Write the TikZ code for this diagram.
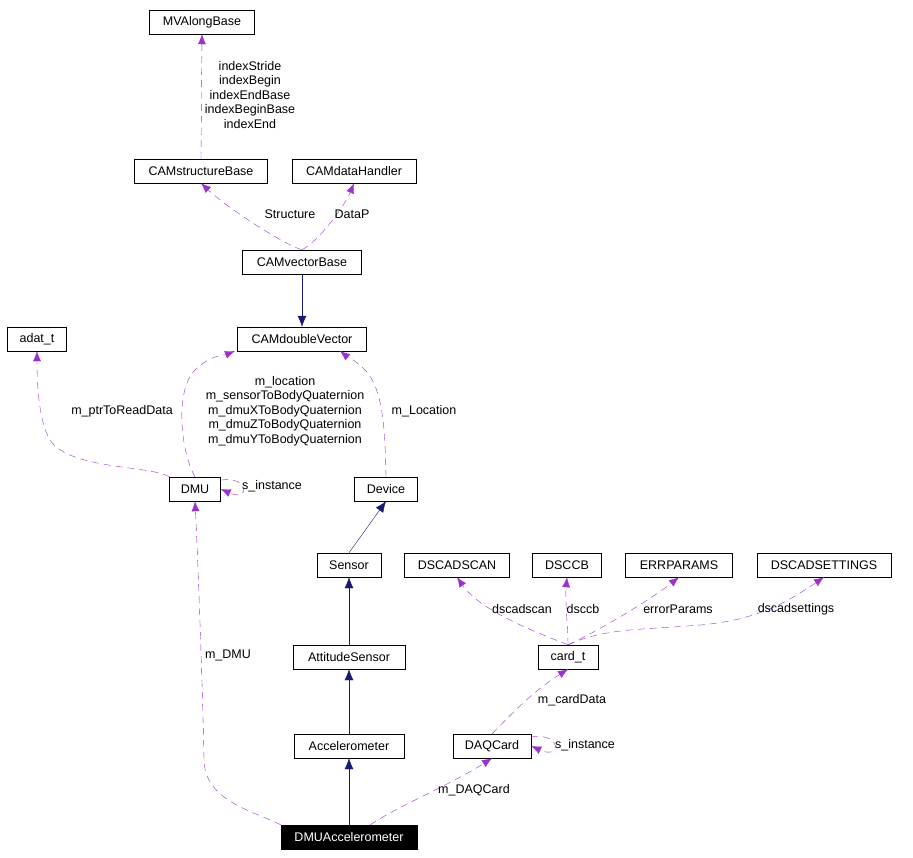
\documentclass[tikz,border=0pt]{standalone}
\usepackage{fontspec}
\setmainfont{Liberation Sans}
\usetikzlibrary{arrows.meta}
\definecolor{pur}{HTML}{9A32CD}
\definecolor{blu}{HTML}{191970}
\begin{document}
\begin{tikzpicture}[x=1pt,y=-1pt,
  box/.style={draw,thin,inner sep=0pt,minimum height=24pt,font=\fontsize{12.5}{13}\selectfont},
  use/.style={draw=pur,dashed,dash pattern=on 7pt off 5pt,-{Latex[length=10pt,width=8pt]}},
  inh/.style={draw=blu,-{Latex[length=11pt,width=9pt]}},
  lab/.style={font=\fontsize{12.5}{14.5}\selectfont,align=center,inner sep=1pt}]
\useasboundingbox (0,0) rectangle (913,857);
\node[box,minimum width=105pt] (mva) at (202,22) {MVAlongBase};
\node[box,minimum width=133pt] (csb) at (201,171) {CAMstructureBase};
\node[box,minimum width=124pt] (cdh) at (354,171) {CAMdataHandler};
\node[box,minimum width=119pt] (cvb) at (302,262) {CAMvectorBase};
\node[box,minimum width=129pt] (cdv) at (302,339) {CAMdoubleVector};
\node[box,minimum width=59pt] (adat) at (37,339) {adat\_t};
\node[box,minimum width=51pt] (dmu) at (195,489) {DMU};
\node[box,minimum width=63pt] (dev) at (386,489) {Device};
\node[box,minimum width=64pt] (sen) at (349,565) {Sensor};
\node[box,minimum width=105pt] (dscan) at (457,565) {DSCADSCAN};
\node[box,minimum width=69pt] (dsccb) at (567,565) {DSCCB};
\node[box,minimum width=107pt] (err) at (679,565) {ERRPARAMS};
\node[box,minimum width=134pt] (dset) at (824,565) {DSCADSETTINGS};
\node[box,minimum width=112pt] (att) at (349,657) {AttitudeSensor};
\node[box,minimum width=60pt] (card) at (568,657) {card\_t};
\node[box,minimum width=110pt] (acc) at (349,746) {Accelerometer};
\node[box,minimum width=78pt] (daq) at (492,746) {DAQCard};
\node[box,minimum width=136pt,fill=black,text=white] (dmua) at (349,837) {DMUAccelerometer};

\draw[use] (csb.north) -- (mva.south);
\node[lab] at (250,95) {indexStride\\indexBegin\\indexEndBase\\indexBeginBase\\indexEnd};
\draw[use] (cvb.north) .. controls (285,245) and (230,210) .. (csb.south);
\node[lab] at (290,214) {Structure};
\draw[use] (cvb.north) .. controls (320,240) and (345,205) .. (cdh.south);
\node[lab] at (352,214) {DataP};
\draw[inh] (cvb.south) -- (cdv.north);
\node[lab] at (122,411) {m\_ptrToReadData};
\draw[use] (dmu.north west) .. controls (150,465) and (70,470) .. (50,440) .. controls (38,420) and (37,380) .. (adat.south);
\node[lab] at (285,411) {m\_location\\m\_sensorToBodyQuaternion\\m\_dmuXToBodyQuaternion\\m\_dmuZToBodyQuaternion\\m\_dmuYToBodyQuaternion};
\draw[use] (dmu.north) .. controls (180,450) and (175,390) .. (195,370) .. controls (210,355) and (225,355) .. (235,351);
\coordinate (a1) at (221,480);
\draw[use] (a1) .. controls (250,476) and (250,502) .. (dmu.east);
\node[lab] at (272,486) {s\_instance};
\draw[use] (dev.north) .. controls (385,440) and (385,390) .. (365,370) .. controls (355,360) and (345,355) .. (340,351);
\node[lab] at (424,411) {m\_Location};
\draw[inh] (sen.north) -- (dev.south);
\draw[inh] (att.north) -- (sen.south);
\draw[inh] (acc.north) -- (att.south);
\draw[inh] (dmua.north) -- (acc.south);
\draw[use] (card.north) .. controls (530,630) and (480,610) .. (dscan.south);
\node[lab] at (522,609) {dscadscan};
\draw[use] (card.north) .. controls (568,630) and (565,600) .. (dsccb.south);
\node[lab] at (583,609) {dsccb};
\draw[use] (card.north) .. controls (600,630) and (650,600) .. (err.south);
\node[lab] at (678,609) {errorParams};
\draw[use] (card.north) .. controls (605,628) and (640,630) .. (700,625) .. controls (760,620) and (790,600) .. (dset.south);
\node[lab] at (796,609) {dscadsettings};
\draw[use] (daq.north) .. controls (515,710) and (535,690) .. (card.south);
\node[lab] at (572,700) {m\_cardData};
\coordinate (a2) at (531,737);
\draw[use] (a2) .. controls (562,732) and (562,760) .. (daq.east);
\node[lab] at (585,745) {s\_instance};
\coordinate (a3) at (370,825);
\draw[use] (a3) .. controls (400,805) and (450,785) .. (daq.south);
\node[lab] at (474,790) {m\_DAQCard};
\draw[use] (dmua.north west) .. controls (250,810) and (205,800) .. (204,760) .. controls (203,700) and (198,560) .. (dmu.south);
\node[lab] at (228,655) {m\_DMU};
\end{tikzpicture}
\end{document}
